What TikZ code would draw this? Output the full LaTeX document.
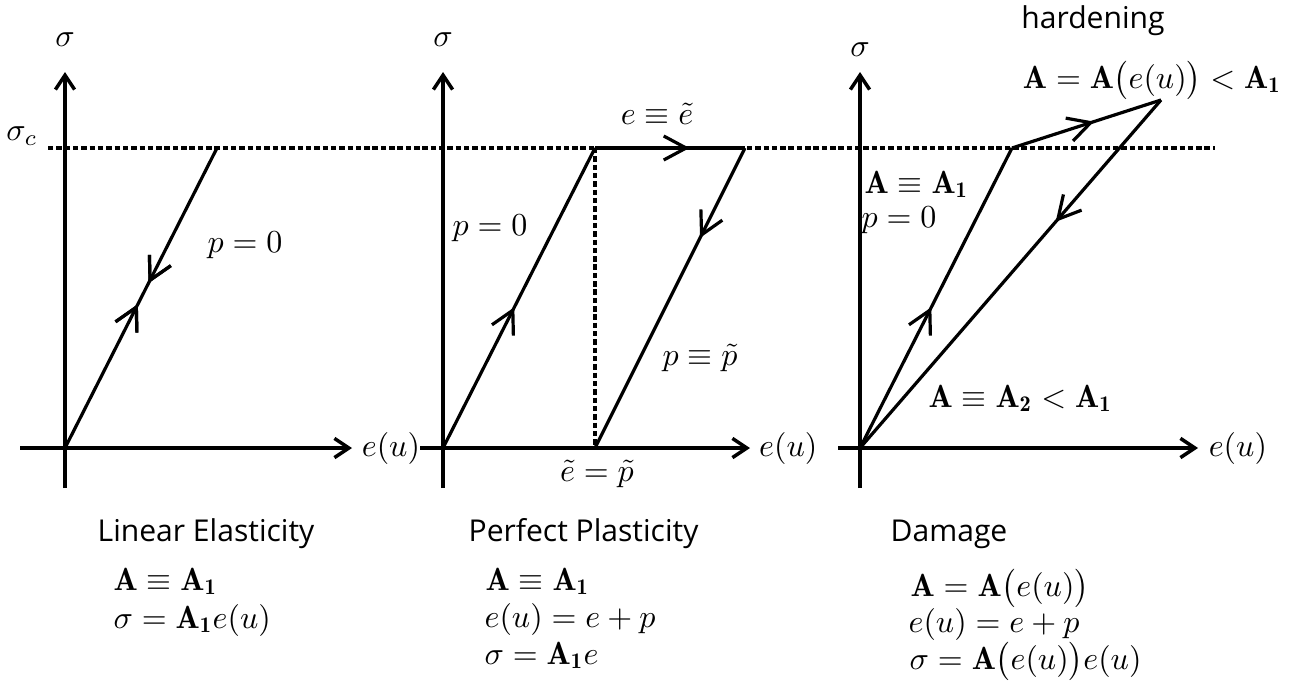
\documentclass[tikz,border=0pt]{standalone}
\usepackage{fontspec}
\newfontfamily\capfont{Open Sans}
\usepackage{tikz}
\usetikzlibrary{positioning, arrows.meta, decorations.markings}

\tikzset{
  axis/.style={line width=1.1pt, -{Straight Barb[length=4.5pt,width=6pt]}},
  branch/.style={line width=1pt},
  crit/.style={line width=1pt, dash pattern=on 1.7pt off 0.9pt},
  midarrow/.style={postaction={decorate}, decoration={markings,
      mark=at position #1 with {\arrow{Straight Barb[length=7pt,width=7.5pt]}}}},
  backarrow/.style={postaction={decorate}, decoration={markings,
      mark=at position #1 with {\arrowreversed{Straight Barb[length=7pt,width=7.5pt]}}}},
  caption/.style={anchor=base west, inner sep=0pt, font=\fontsize{9.4}{11}\capfont},
  eqline/.style={anchor=base west, inner sep=0pt}
}

\begin{document}
\begin{tikzpicture}[x=0.3125pt, y=-0.3125pt]
  \useasboundingbox (0,0) rectangle (1298,682);

  % critical stress level
  \coordinate (crL) at (48,148);
  \coordinate (crR) at (1215,148);
  \draw[crit] (crL) -- (crR);
  \node (sigc) at (22,136) {$\sigma_c$};

  % ---- linear elasticity
  \coordinate (oa) at (65,448);
  \draw[axis] (65,488) -- (65,72) node[above=4pt] (sa) {$\sigma$};
  \draw[axis] (20,448) -- (352,448) node[right=-0.8pt] (ea) {$e(u)$};
  \coordinate (ta) at (217,148);
  \draw[branch, midarrow=0.48, backarrow=0.55] (oa) -- (ta);
  \node (pa) at (245,245) {$p=0$};
  \node[caption] (capa) at (97,541) {Linear Elasticity};
  \node[eqline] (eqa1) at (113,590) {$\mathbf{A}\equiv\mathbf{A_1}$};
  \node[eqline] (eqa2) at (113,628) {$\sigma=\mathbf{A_1}e(u)$};

  % ---- perfect plasticity
  \coordinate (ob) at (443,448);
  \draw[axis] (443,488) -- (443,72) node[above=4pt] (sb) {$\sigma$};
  \draw[axis] (420,448) -- (750,448) node[right=-1pt] (eb) {$e(u)$};
  \coordinate (tb) at (595,148);
  \coordinate (ub) at (745,148);
  \coordinate (rb) at (595,448);
  \draw[crit] (tb) -- (rb);
  \draw[branch, midarrow=0.47] (ob) -- (tb);
  \draw[branch, midarrow=0.63] (tb) -- (ub);
  \draw[branch, midarrow=0.3] (ub) -- (rb);
  \node (eb1) at (657,114) {$e\equiv\tilde{e}$};
  \node (pb) at (490,228) {$p=0$};
  \node (pb1) at (700,358) {$p\equiv\tilde{p}$};
  \node (rbl) at (597,474) {$\tilde{e}=\tilde{p}$};
  \node[caption] (capb) at (468,541) {Perfect Plasticity};
  \node[eqline] (eqb1) at (485,590) {$\mathbf{A}\equiv\mathbf{A_1}$};
  \node[eqline] (eqb2) at (484,627) {$e(u)=e+p$};
  \node[eqline] (eqb3) at (484,664) {$\sigma=\mathbf{A_1}e$};

  % ---- damage
  \coordinate (oc) at (860,448);
  \draw[axis] (860,488) -- (860,72) node[above=1pt] (sc) {$\sigma$};
  \draw[axis] (838,448) -- (1198,448) node[right=-0.5pt] (ec) {$e(u)$};
  \coordinate (tc) at (1012,148);
  \coordinate (uc) at (1161,100);
  \draw[branch, midarrow=0.47] (oc) -- (tc);
  \draw[branch, midarrow=0.55] (tc) -- (uc);
  \draw[branch, midarrow=0.35] (uc) -- (oc);
  \node[eqline] (ac) at (864,193) {$\mathbf{A}\equiv\mathbf{A_1}$};
  \node[eqline] (pc) at (861,227) {$p=0$};
  \node[eqline] (ac2) at (928,407) {$\mathbf{A}\equiv\mathbf{A_2}<\mathbf{A_1}$};
  \node[anchor=base, inner sep=0pt, font=\fontsize{9.4}{11}\capfont] (hard) at (1093,28) {hardening};
  \node[anchor=base, inner sep=0pt] (ahard) at (1152,88) {$\mathbf{A}=\mathbf{A}\big(e(u)\big)<\mathbf{A_1}$};
  \node[caption] (capc) at (890,541) {Damage};
  \node[eqline] (eqc1) at (910,596) {$\mathbf{A}=\mathbf{A}\big(e(u)\big)$};
  \node[eqline] (eqc2) at (908,632) {$e(u)=e+p$};
  \node[eqline] (eqc3) at (909,669) {$\sigma=\mathbf{A}\big(e(u)\big)e(u)$};
\end{tikzpicture}
\end{document}
